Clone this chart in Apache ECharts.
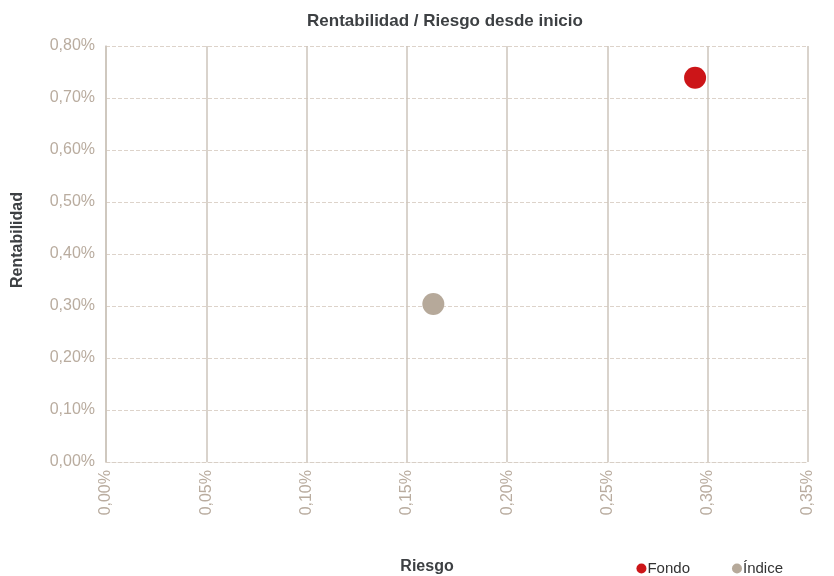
<!DOCTYPE html>
<html><head><meta charset="utf-8">
<script src="https://cdn.jsdelivr.net/npm/echarts@6/dist/echarts.min.js"></script>
<style>html,body{margin:0;padding:0;background:#fff}#c{width:834px;height:576px}</style>
</head><body><div id="c"></div>
<script>
const seriesNames = ['Fondo', 'Índice'];
const seriesColors = ['#cc1518', '#b6a99a'];
const riesgo = [0.2937, 0.1632];
const rentabilidad = [0.739, 0.304];

const fmt = v => v.toFixed(2).replace('.', ',') + '%';
const chart = echarts.init(document.getElementById('c'));
const labelColor = '#b9ac9f';
const dark = '#3d4043';
chart.setOption({
  animation: false,
  title: {
    text: 'Rentabilidad / Riesgo desde inicio', left: 440, top: 8, textAlign: 'center',
    textStyle: {fontFamily: 'Liberation Sans', fontSize: 17, fontWeight: 'bold', color: dark}
  },
  legend: {
    right: 46, bottom: -5, itemWidth: 10, itemHeight: 10, itemGap: 42, icon: 'circle',
    textStyle: {fontFamily: 'Liberation Sans', fontSize: 15, color: '#333', padding: [0,0,0,-4]},
    data: seriesNames
  },
  grid: {left: 106, right: 26, top: 46, bottom: 114, outerBoundsMode: 'none', containLabel: false},
  xAxis: {
    type: 'value', min: 0, max: 0.35, interval: 0.05,
    name: 'Riesgo', nameLocation: 'middle', nameGap: 97,
    nameTextStyle: {fontFamily: 'Liberation Sans', fontSize: 16, fontWeight: 'bold', color: dark, padding: [0,60,0,0]},
    axisLine: {show: true, lineStyle: {color: '#d8cfc6', type: 'dashed', width: 1}},
    axisTick: {show: false},
    axisLabel: {rotate: 90, color: labelColor, fontFamily: 'Liberation Sans', fontSize: 16, margin: 8, formatter: fmt},
    splitLine: {show: true, lineStyle: {color: '#cdc4bb', width: 1.5}}
  },
  yAxis: {
    type: 'value', min: 0, max: 0.8, interval: 0.1,
    name: 'Rentabilidad', nameLocation: 'middle', nameGap: 80, nameRotate: 90,
    nameTextStyle: {fontFamily: 'Liberation Sans', fontSize: 16, fontWeight: 'bold', color: dark, padding: [0,0,0,28]},
    axisLine: {show: true, lineStyle: {color: '#cdc4bb', width: 1.5}},
    axisTick: {show: false},
    axisLabel: {color: labelColor, fontFamily: 'Liberation Sans', fontSize: 16, margin: 11, formatter: fmt},
    splitLine: {show: true, lineStyle: {color: '#ddd3ca', type: 'dashed', width: 1}}
  },
  series: seriesNames.map((n, i) => ({
    name: n, type: 'scatter', symbolSize: 22,
    itemStyle: {color: seriesColors[i], opacity: 1},
    data: [[riesgo[i], rentabilidad[i]]]
  }))
});
</script></body></html>
